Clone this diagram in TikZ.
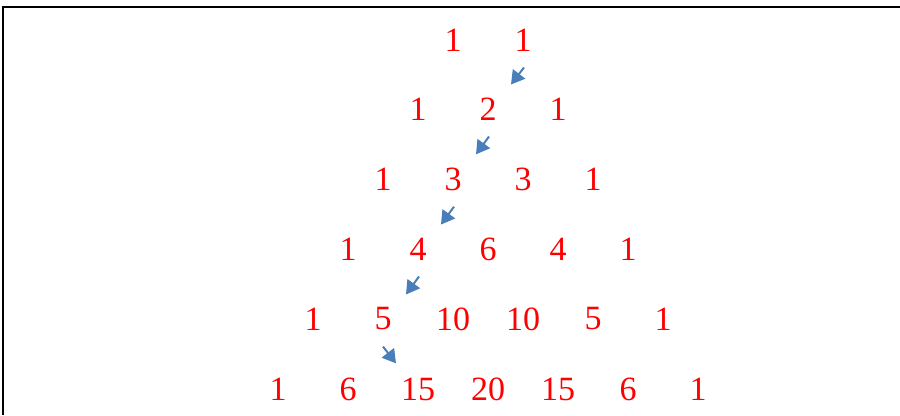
\documentclass[tikz,border=0pt]{standalone}
\usepackage{fontspec}
\setmainfont{Liberation Serif}
\usetikzlibrary{arrows.meta, positioning, calc}
\definecolor{numred}{RGB}{255,0,0}
\definecolor{diagblue}{RGB}{74,126,187}

\begin{document}
\begin{tikzpicture}[x=0.75pt, y=-0.75pt,
  num/.style={text=numred, font=\fontsize{25.5}{30}\selectfont, inner sep=0pt},
  diag/.style={draw=diagblue, line width=1.5pt, -{Triangle[length=10pt, width=11.5pt]}}]
  \useasboundingbox (0,0) rectangle (900,415);
  \draw[line width=1.5pt] (3,415) -- (3,7) -- (900,7);
  % rows of the triangle
  \node[num] (r1c0) at (453,40) {1};
  \node[num] (r1c1) at (523,40) {1};
  \node[num] (r2c0) at (418,109) {1};
  \node[num] (r2c1) at (488,109) {2};
  \node[num] (r2c2) at (558,109) {1};
  \node[num] (r3c0) at (383,179) {1};
  \node[num] (r3c1) at (453,179) {3};
  \node[num] (r3c2) at (523,179) {3};
  \node[num] (r3c3) at (593,179) {1};
  \node[num] (r4c0) at (348,249) {1};
  \node[num] (r4c1) at (418,249) {4};
  \node[num] (r4c2) at (488,249) {6};
  \node[num] (r4c3) at (558,249) {4};
  \node[num] (r4c4) at (628,249) {1};
  \node[num] (r5c0) at (313,319) {1};
  \node[num] (r5c1) at (383,319) {5};
  \node[num] (r5c2) at (453,319) {10};
  \node[num] (r5c3) at (523,319) {10};
  \node[num] (r5c4) at (593,319) {5};
  \node[num] (r5c5) at (663,319) {1};
  \node[num] (r6c0) at (278,389) {1};
  \node[num] (r6c1) at (348,389) {6};
  \node[num] (r6c2) at (418,389) {15};
  \node[num] (r6c3) at (488,389) {20};
  \node[num] (r6c4) at (558,389) {15};
  \node[num] (r6c5) at (628,389) {6};
  \node[num] (r6c6) at (698,389) {1};
  % arrows along the diagonal
  \draw[diag] ($(r1c1.south)+(1,16)$) -- ($(r2c1.north)+(23,-13)$);
  \draw[diag] ($(r2c1.south)+(1,16)$) -- ($(r3c1.north)+(23,-13)$);
  \draw[diag] ($(r3c1.south)+(1,16)$) -- ($(r4c1.north)+(23,-13)$);
  \draw[diag] ($(r4c1.south)+(1,16)$) -- ($(r5c1.north)+(23,-13)$);
  \draw[diag] ($(r5c1.south)+(0,16)$) -- ($(r6c2.north)+(-22,-14)$);
\end{tikzpicture}
\end{document}
